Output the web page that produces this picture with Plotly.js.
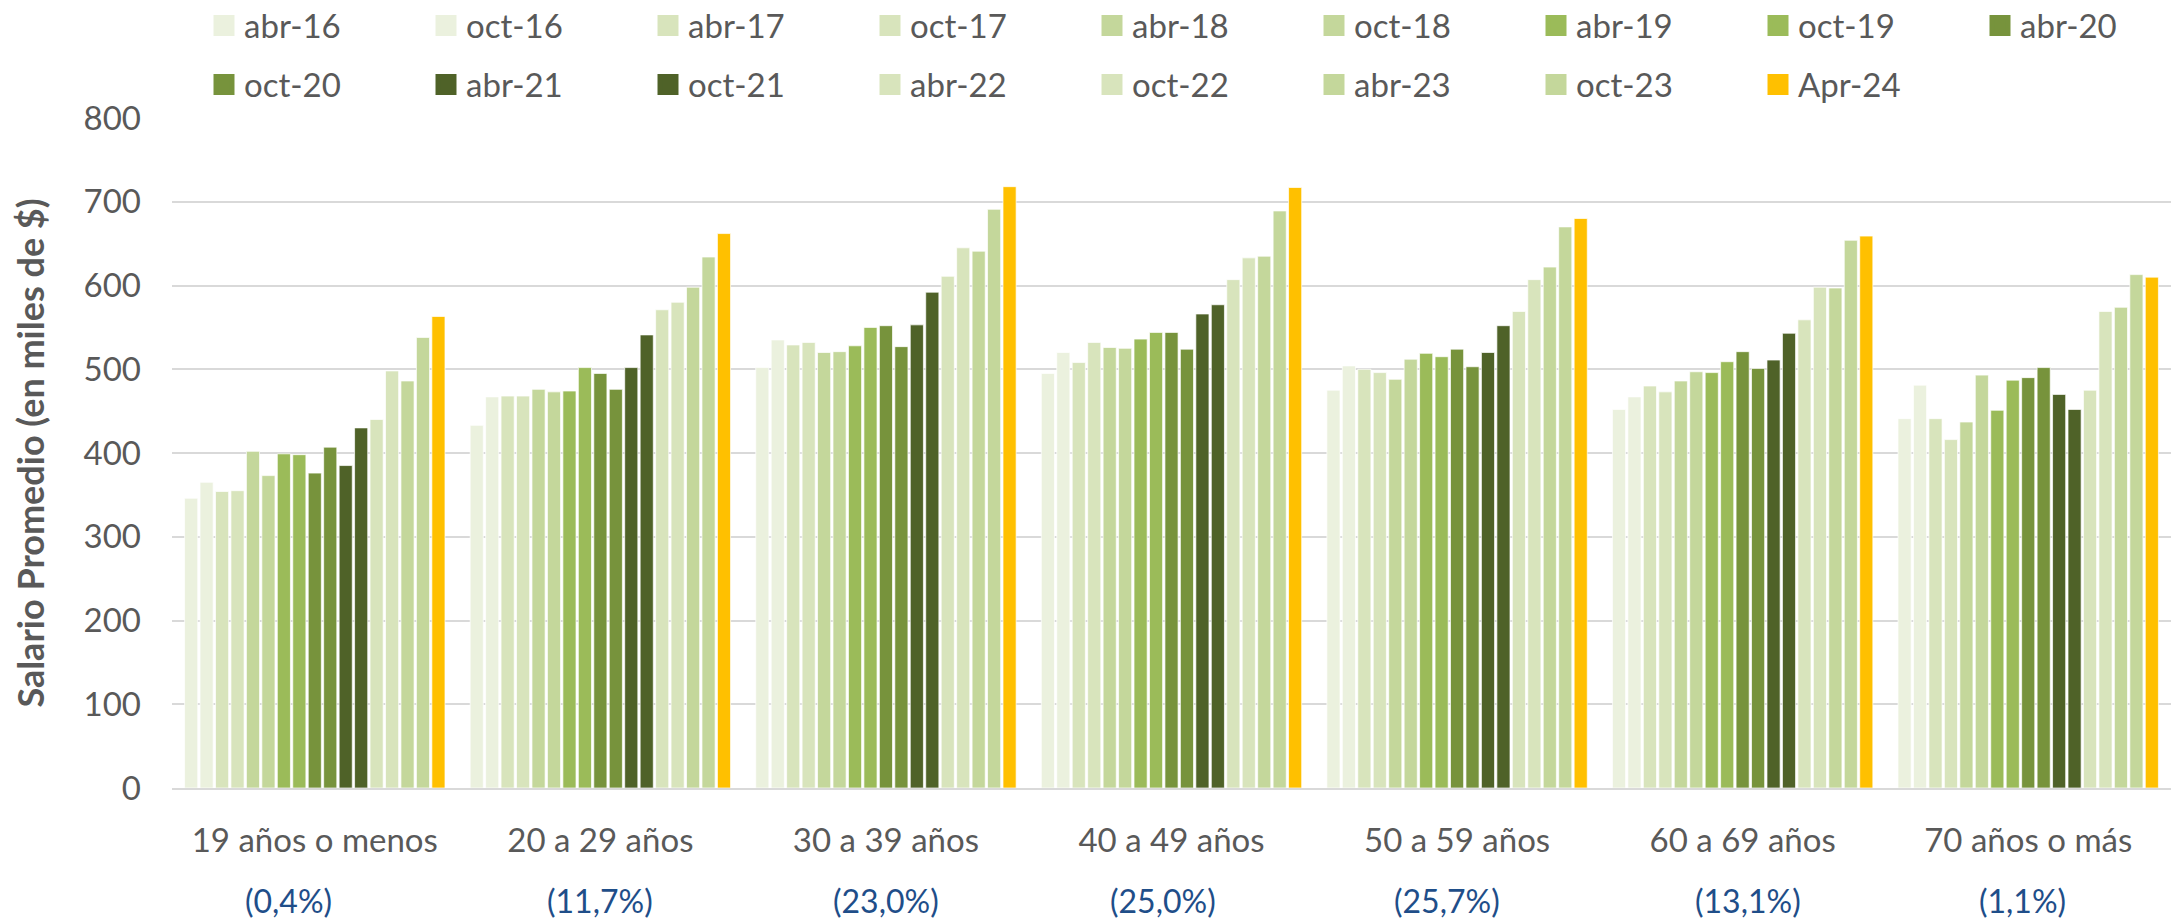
<!DOCTYPE html>
<html>
<head>
<meta charset="utf-8">
<script src="https://cdn.plot.ly/plotly-3.0.1.min.js"></script>
<style>html,body{margin:0;padding:0;background:#fff;}#chart{width:2177px;height:923px;}</style>
</head>
<body>
<div id="chart"></div>
<script>
const categories = ['19 años o menos', '20 a 29 años', '30 a 39 años', '40 a 49 años', '50 a 59 años', '60 a 69 años', '70 años o más'];
const shares = ['(0,4%)', '(11,7%)', '(23,0%)', '(25,0%)', '(25,7%)', '(13,1%)', '(1,1%)'];
const seriesNames = ['abr-16','oct-16','abr-17','oct-17','abr-18','oct-18','abr-19','oct-19','abr-20','oct-20','abr-21','oct-21','abr-22','oct-22','abr-23','oct-23','Apr-24'];
const abr16 = [346, 433, 502, 495, 475, 452, 441];
const oct16 = [365, 467, 535, 520, 504, 467, 481];
const abr17 = [354, 468, 529, 508, 500, 480, 441];
const oct17 = [355, 468, 532, 532, 496, 473, 416];
const abr18 = [402, 476, 520, 526, 488, 486, 437];
const oct18 = [373, 473, 521, 525, 512, 497, 493];
const abr19 = [399, 474, 528, 536, 519, 496, 451];
const oct19 = [398, 502, 550, 544, 515, 509, 487];
const abr20 = [376, 495, 552, 544, 524, 521, 490];
const oct20 = [407, 476, 527, 524, 503, 501, 502];
const abr21 = [385, 502, 553, 566, 520, 511, 470];
const oct21 = [430, 541, 592, 577, 552, 543, 452];
const abr22 = [440, 571, 611, 607, 569, 559, 475];
const oct22 = [498, 580, 645, 633, 607, 598, 569];
const abr23 = [486, 598, 641, 635, 622, 597, 574];
const oct23 = [538, 634, 691, 689, 670, 654, 613];
const apr24 = [563, 662, 718, 717, 680, 659, 610];
const seriesValues = [abr16, oct16, abr17, oct17, abr18, oct18, abr19, oct19, abr20, oct20, abr21, oct21, abr22, oct22, abr23, oct23, apr24];
const seriesColors = ['#EBF1DE','#EBF1DE','#D8E4BC','#D8E4BC','#C4D79B','#C4D79B','#9BBB59','#9BBB59','#77933C','#77933C','#4F6228','#4F6228','#D8E4BC','#D8E4BC','#C4D79B','#C4D79B','#FFC000'];

const FONT = 'Lato, "Open Sans", sans-serif';
const GREY = '#595959';

// Bars (data marks)
const barTraces = seriesNames.map((name, i) => ({
  type: 'bar',
  name: name,
  x: categories,
  y: seriesValues[i],
  showlegend: false,
  legendgroup: name,
  marker: { color: seriesColors[i], line: { color: 'rgba(255,255,255,0.7)', width: 1 } },
  hoverinfo: 'x+y+name'
}));

// Legend-only entries (square swatches like the original), no drawn points
const legendTraces = seriesNames.map((name, i) => ({
  type: 'scatter',
  mode: 'markers',
  name: name,
  x: [null],
  y: [null],
  legendgroup: name,
  legend: i < 9 ? 'legend' : 'legend2',
  marker: { symbol: 'square', size: 16, color: seriesColors[i], line: { color: seriesColors[i], width: 5 } },
  hoverinfo: 'skip'
}));

const legendCommon = {
  orientation: 'h',
  xref: 'container', yref: 'container',
  x: 204 / 2177, xanchor: 'left',
  yanchor: 'middle',
  font: { family: FONT, size: 33, color: GREY },
  entrywidth: 177, entrywidthmode: 'pixels',
  itemclick: false, itemdoubleclick: false,
  bgcolor: 'rgba(0,0,0,0)', borderwidth: 0,
  traceorder: 'normal'
};

// small horizontal nudges of the share labels, as placed in the original
const shareShift = [-26, 0, 0, -9, -10, 5, -6];
const annotations = categories.map((c, i) => ({
  x: c, xref: 'x', y: -0.168, yref: 'paper',
  xshift: shareShift[i],
  text: shares[i], showarrow: false,
  xanchor: 'center', yanchor: 'middle',
  font: { family: FONT, size: 32, color: '#1F4E89' }
}));

const layout = {
  width: 2177, height: 923,
  paper_bgcolor: '#ffffff', plot_bgcolor: '#ffffff',
  margin: { l: 172, r: 6, t: 118, b: 135 },
  barmode: 'group', bargap: 0.08, bargroupgap: 0.15,
  font: { family: FONT, color: GREY },
  showlegend: true,
  legend: Object.assign({}, legendCommon, { y: 1 - 25.5 / 923 }),
  legend2: Object.assign({}, legendCommon, { y: 1 - 84.5 / 923 }),
  xaxis: {
    type: 'category',
    tickfont: { family: FONT, size: 33, color: GREY },
    ticks: '', showline: true, linecolor: '#D9D9D9', linewidth: 2,
    ticklabelstandoff: 22, automargin: false
  },
  yaxis: {
    range: [0, 800], dtick: 100, tick0: 0,
    showgrid: true, gridcolor: '#D9D9D9', gridwidth: 2,
    zeroline: false, showline: false, ticks: '',
    tickfont: { family: FONT, size: 33, color: GREY },
    ticklabelstandoff: 30, automargin: false,
    title: { text: 'Salario Promedio (en miles de $)', font: { family: FONT, size: 36, color: GREY, weight: 'bold' }, standoff: 27 }
  },
  annotations: annotations
};

Plotly.newPlot('chart', barTraces.concat(legendTraces), layout, { displayModeBar: false });
</script>
</body>
</html>
